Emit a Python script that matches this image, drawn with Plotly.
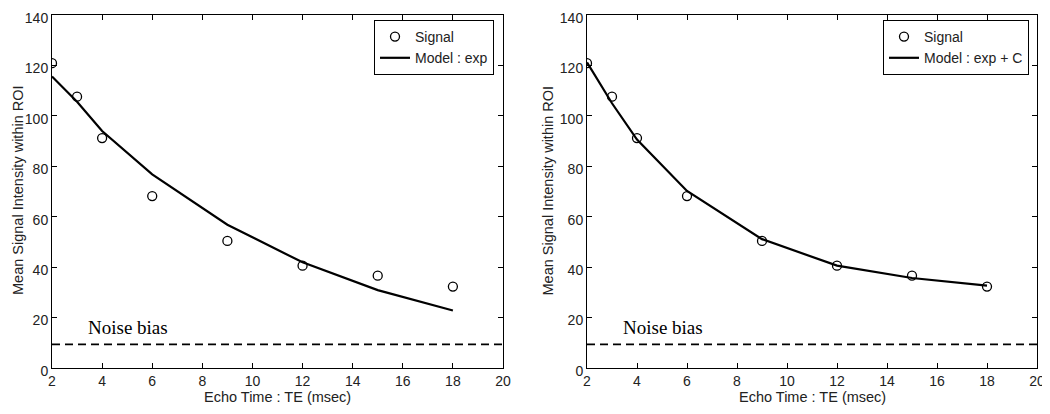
import plotly.graph_objects as go

te = [2, 3, 4, 6, 9, 12, 15, 18]
signal = [120.9, 107.6, 91.2, 68.2, 50.4, 40.6, 36.6, 32.3]
model_exp = [115.6, 105.6, 94.0, 76.8, 56.8, 41.9, 30.9, 22.8]
model_expc = [121.2, 105.0, 90.6, 70.2, 51.1, 40.6, 35.7, 32.7]
noise_bias = 9.4
noise_x = [2, 20]
x_ticks = [2, 4, 6, 8, 10, 12, 14, 16, 18, 20]
y_ticks = [0, 20, 40, 60, 80, 100, 120, 140]
panels = [
    ("Model : exp", model_exp),
    ("Model : exp + C", model_expc),
]

# page body has an 8px margin; work in window pixels and convert
OFF = 8
W, H = 1050 - OFF, 414 - OFF


def px(x):
    return (x - OFF) / W


def py(y):
    return 1 - (y - OFF) / H


doms = [(px(52), px(503)), (px(587), px(1037))]
ydom = [py(368), py(15)]
legend_right = [px(494), px(1029)]
font_sans = "Liberation Sans, Arial, sans-serif"
txt = "#222222"

fig = go.Figure()
for i, (name, model) in enumerate(panels):
    xa = "x" if i == 0 else "x2"
    ya = "y" if i == 0 else "y2"
    lg = "legend" if i == 0 else "legend2"
    fig.add_trace(go.Scatter(
        x=te, y=signal, mode="markers", name="Signal", xaxis=xa, yaxis=ya, legend=lg,
        marker=dict(symbol="circle-open", size=9, color="black", line=dict(width=1.3, color="black")),
    ))
    fig.add_trace(go.Scatter(
        x=te, y=model, mode="lines", name=name, xaxis=xa, yaxis=ya, legend=lg,
        line=dict(color="black", width=2.2),
    ))
    fig.add_trace(go.Scatter(
        x=noise_x, y=[noise_bias, noise_bias], mode="lines", showlegend=False,
        xaxis=xa, yaxis=ya, line=dict(color="black", width=1.8, dash="8px,5px"),
    ))
    fig.add_annotation(
        x=3.35, y=16.2, xref=xa, yref=ya, text="Noise bias", showarrow=False,
        xanchor="left", yanchor="middle",
        font=dict(family="Liberation Serif, Times New Roman, serif", size=19, color="black"),
    )
    # x-axis title
    fig.add_annotation(
        x=(doms[i][0] + doms[i][1]) / 2, y=py(397), xref="paper", yref="paper",
        text="Echo Time : TE (msec)", showarrow=False, xanchor="center", yanchor="middle",
        font=dict(family=font_sans, size=14.5, color=txt),
    )
    # y-axis title
    ytx = [px(17.5), px(547)][i]
    fig.add_annotation(
        x=ytx, y=py(13 + 355 / 2), xref="paper", yref="paper",
        text="Mean Signal Intensity within ROI", showarrow=False, textangle=-90,
        xanchor="center", yanchor="middle",
        font=dict(family=font_sans, size=14.5, color=txt),
    )

axis_common = dict(
    showline=True, linecolor="black", linewidth=1, mirror="ticks",
    ticks="inside", ticklen=5, tickcolor="black", showgrid=False, zeroline=False,
    automargin=False, ticklabeloverflow="allow",
    tickfont=dict(family=font_sans, size=14, color=txt),
)
legend_common = dict(
    xanchor="right", yanchor="top", bordercolor="black", borderwidth=1, bgcolor="white",
    font=dict(family=font_sans, size=14, color=txt), tracegroupgap=0,
)
fig.update_layout(
    width=W, height=H,
    margin=dict(l=0, r=0, t=0, b=0, pad=0),
    paper_bgcolor="white", plot_bgcolor="white",
    xaxis=dict(domain=list(doms[0]), range=[2, 20], tickvals=x_ticks, anchor="y", **axis_common),
    yaxis=dict(domain=ydom, range=[0, 140], tickvals=y_ticks, anchor="x", ticklabelshift=3, **axis_common),
    xaxis2=dict(domain=list(doms[1]), range=[2, 20], tickvals=x_ticks, anchor="y2", **axis_common),
    yaxis2=dict(domain=ydom, range=[0, 140], tickvals=y_ticks, anchor="x2", ticklabelshift=3, **axis_common),
    legend=dict(x=legend_right[0], y=py(20), **legend_common),
    legend2=dict(x=legend_right[1], y=py(20), **legend_common),
    showlegend=True,
)

fig.write_html("out.html")
